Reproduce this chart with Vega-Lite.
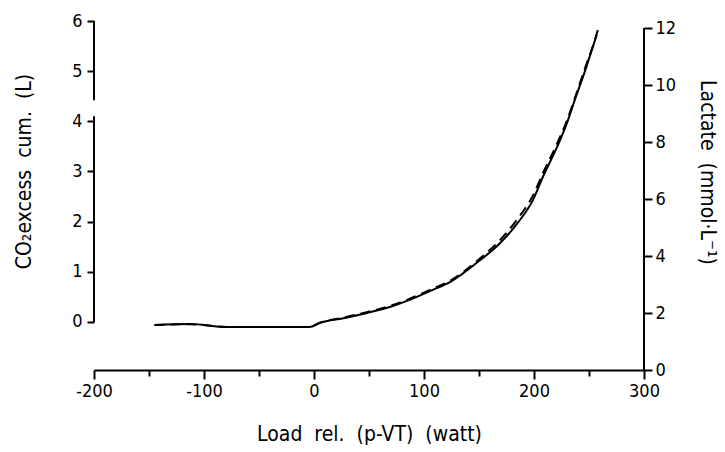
{
  "$schema": "https://vega.github.io/schema/vega-lite/v6.json",
  "width": 550,
  "height": 349,
  "autosize": {"type": "none"},
  "padding": {"left": 94, "top": 21, "right": 81, "bottom": 82},
  "background": "white",
  "config": {
    "view": {"stroke": null},
    "font": "DejaVu Sans Condensed",
    "axis": {
      "domainColor": "black",
      "domainWidth": 2,
      "tickColor": "black",
      "tickWidth": 2,
      "labelColor": "black",
      "titleColor": "black",
      "labelFont": "DejaVu Sans Condensed",
      "titleFont": "DejaVu Sans Condensed",
      "labelFontSize": 18,
      "titleFontSize": 21,
      "titleFontWeight": "normal",
      "grid": false
    }
  },
  "datasets": {
    "co2": [
      {"load": -145, "co2": -0.06}, {"load": -113, "co2": -0.04}, {"load": -79, "co2": -0.1},
      {"load": -40, "co2": -0.1}, {"load": -4, "co2": -0.1}, {"load": 5, "co2": -0.02},
      {"load": 28, "co2": 0.08}, {"load": 48, "co2": 0.18}, {"load": 69, "co2": 0.3},
      {"load": 87, "co2": 0.44}, {"load": 108, "co2": 0.64}, {"load": 124, "co2": 0.8},
      {"load": 148, "co2": 1.18}, {"load": 169, "co2": 1.57}, {"load": 185, "co2": 1.97},
      {"load": 199, "co2": 2.43}, {"load": 208, "co2": 2.89}, {"load": 221, "co2": 3.49},
      {"load": 230, "co2": 3.97}, {"load": 237, "co2": 4.42}, {"load": 246, "co2": 4.98},
      {"load": 254, "co2": 5.52}, {"load": 257, "co2": 5.72}
    ],
    "lactate": [
      {"load": -145, "lactate": 1.58}, {"load": -113, "lactate": 1.61}, {"load": -79, "lactate": 1.51},
      {"load": -40, "lactate": 1.51}, {"load": -4, "lactate": 1.51}, {"load": 5, "lactate": 1.65},
      {"load": 28, "lactate": 1.85}, {"load": 48, "lactate": 2.03}, {"load": 69, "lactate": 2.25},
      {"load": 87, "lactate": 2.5}, {"load": 108, "lactate": 2.86}, {"load": 124, "lactate": 3.14},
      {"load": 148, "lactate": 3.82}, {"load": 169, "lactate": 4.56}, {"load": 185, "lactate": 5.3},
      {"load": 199, "lactate": 6.12}, {"load": 208, "lactate": 6.9}, {"load": 221, "lactate": 7.95},
      {"load": 230, "lactate": 8.76}, {"load": 237, "lactate": 9.53}, {"load": 246, "lactate": 10.55},
      {"load": 254, "lactate": 11.42}, {"load": 258, "lactate": 11.93}
    ]
  },
  "layer": [
    {
      "layer": [
        {
          "data": {"name": "co2"},
          "mark": {"type": "line", "color": "black", "strokeWidth": 2, "interpolate": "monotone"},
          "encoding": {
            "x": {
              "field": "load", "type": "quantitative",
              "scale": {"domain": [-200, 300], "nice": false, "zero": false},
              "axis": {
                "orient": "bottom",
                "title": "Load\u00a0 rel.\u00a0 (p-VT)\u00a0 (watt)",
                "values": [-200, -175, -150, -125, -100, -75, -50, -25, 0, 25, 50, 75, 100, 125, 150, 175, 200, 225, 250, 275, 300],
                "labelExpr": "datum.value % 100 === 0 ? ('' + datum.value) : ''",
                "tickSize": {"condition": {"test": "datum.value % 100 === 0", "value": 9}, "value": 6},
                "labelPadding": 3,
                "labelFlush": false,
                "labelOverlap": false,
                "titlePadding": 23
              }
            },
            "y": {
              "field": "co2", "type": "quantitative",
              "scale": {"domain": [-0.957, 6], "nice": false, "zero": false},
              "axis": {
                "orient": "left",
                "title": "CO₂excess\u00a0 cum.\u00a0 (L)",
                "values": [0, 1, 2, 3, 4, 5, 6],
                "domain": false,
                "tickSize": 7,
                "labelPadding": 5,
                "titlePadding": 37,
                "titleY": 150
              }
            }
          }
        },
        {
          "mark": {"type": "rule", "color": "black", "strokeWidth": 2},
          "data": {"values": [{"from": 0, "to": 4.1}, {"from": 4.42, "to": 6}]},
          "encoding": {
            "x": {"datum": -200, "type": "quantitative"},
            "y": {"field": "from", "type": "quantitative"},
            "y2": {"field": "to"}
          }
        }
      ]
    },
    {
      "layer": [
        {
          "data": {"name": "lactate"},
          "mark": {"type": "line", "color": "black", "strokeWidth": 2, "strokeDash": [10, 6], "interpolate": "monotone"},
          "encoding": {
            "x": {"field": "load", "type": "quantitative"},
            "y": {
              "field": "lactate", "type": "quantitative",
              "scale": {"domain": [0, 12.25], "nice": false, "zero": false},
              "axis": {
                "orient": "right",
                "title": "Lactate\u00a0 (mmol·L⁻¹)",
                "values": [0, 2, 4, 6, 8, 10, 12],
                "domain": false,
                "tickSize": 8,
                "labelPadding": 3,
                "titlePadding": 21,
                "titleY": 151
              }
            }
          }
        },
        {
          "mark": {"type": "rule", "color": "black", "strokeWidth": 2},
          "data": {"values": [{"from": 0, "to": 12}]},
          "encoding": {
            "x": {"datum": 300, "type": "quantitative"},
            "y": {"field": "from", "type": "quantitative"},
            "y2": {"field": "to"}
          }
        }
      ]
    }
  ],
  "resolve": {"scale": {"y": "independent"}}
}
